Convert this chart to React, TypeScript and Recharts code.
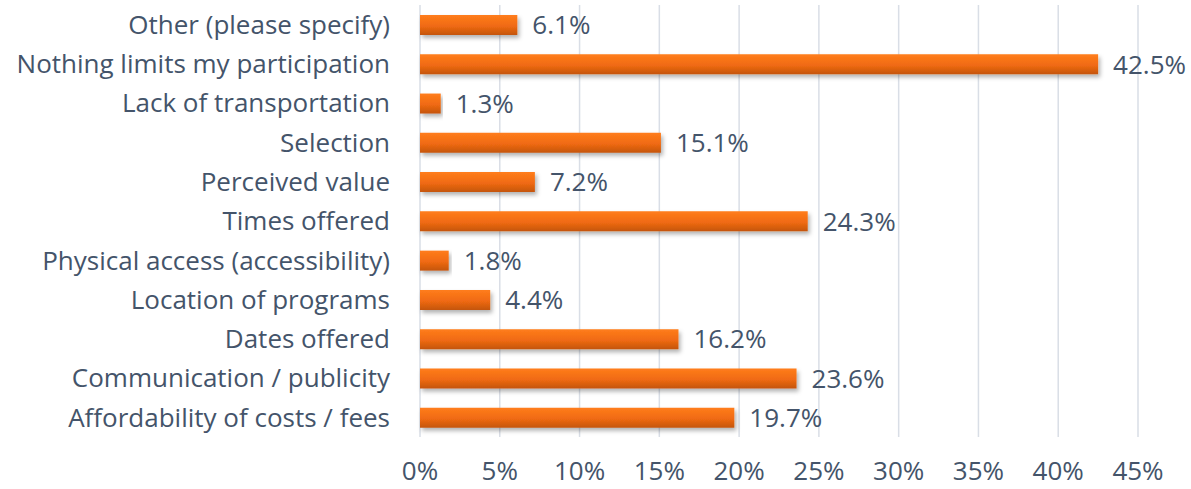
import React from "react";
import { BarChart, Bar, XAxis, YAxis, CartesianGrid, LabelList } from "recharts";

const categories = [
  "Other (please specify)",
  "Nothing limits my participation",
  "Lack of transportation",
  "Selection",
  "Perceived value",
  "Times offered",
  "Physical access (accessibility)",
  "Location of programs",
  "Dates offered",
  "Communication / publicity",
  "Affordability of costs / fees",
];
const values = [6.1, 42.5, 1.3, 15.1, 7.2, 24.3, 1.8, 4.4, 16.2, 23.6, 19.7];
const xTicks = [0, 5, 10, 15, 20, 25, 30, 35, 40, 45];

const data = categories.map((name, i) => ({ name, value: values[i] }));

const FONT = "'Open Sans', Lato, sans-serif";
const TEXT = "#44546a";

export default function App() {
  return (
    <div style={{ position: "absolute", left: 0, top: 0, width: 1191, height: 489, background: "#fff" }}>
      <BarChart
        width={1191}
        height={489}
        data={data}
        layout="vertical"
        margin={{ top: 5, right: 53, bottom: 0, left: 0 }}
        barSize={20}
      >
        <defs>
          <linearGradient id="barGrad" x1="0" y1="0" x2="0" y2="1">
            <stop offset="0%" stopColor="#ff7d1c" />
            <stop offset="55%" stopColor="#f06a12" />
            <stop offset="100%" stopColor="#c4550f" />
          </linearGradient>
          <filter id="shadow" x="-5%" y="-30%" width="115%" height="190%">
            <feDropShadow dx="2" dy="3" stdDeviation="2" floodColor="#000" floodOpacity="0.3" />
          </filter>
        </defs>
        <CartesianGrid horizontal={false} vertical stroke="#d9dee6" strokeWidth={1.5} />
        <XAxis
          type="number"
          domain={[0, 45]}
          ticks={xTicks}
          interval={0}
          tickFormatter={(v: number) => `${v}%`}
          axisLine={false}
          tickLine={false}
          tickSize={0}
          tickMargin={25}
          height={52}
          tick={{ fill: TEXT, fontSize: 26, fontFamily: FONT }}
        />
        <YAxis
          type="category"
          dataKey="name"
          width={420}
          axisLine={false}
          tickLine={false}
          tickSize={0}
          tickMargin={30}
          interval={0}
          tick={{ fill: TEXT, fontSize: 26, fontFamily: FONT }}
        />
        <Bar dataKey="value" fill="url(#barGrad)" filter="url(#shadow)" isAnimationActive={false}>
          <LabelList
            dataKey="value"
            position="right"
            offset={15}
            formatter={(v: number) => `${v.toFixed(1)}%`}
            style={{ fill: TEXT, fontSize: 26, fontFamily: FONT }}
          />
        </Bar>
      </BarChart>
    </div>
  );
}
